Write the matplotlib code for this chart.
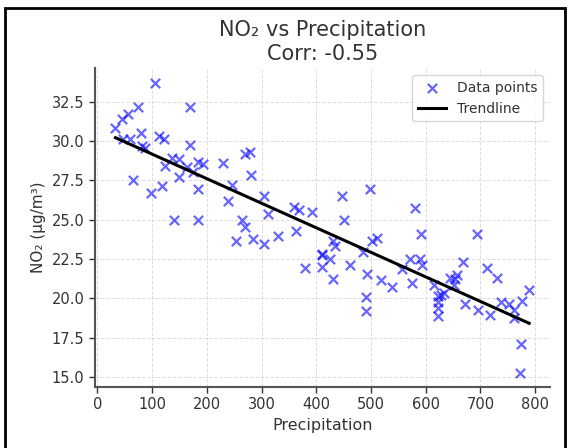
import numpy as np
import matplotlib
matplotlib.use("Agg")
import matplotlib.pyplot as plt
from matplotlib.patches import Rectangle

# values
precip = [33, 45, 56, 75, 105, 170, 47, 60, 79, 82, 87, 65, 98, 113, 121,
          118, 124, 137, 150, 150, 140, 164, 170, 174, 183, 193, 184, 183,
          229, 246, 239, 264, 269, 253, 285, 280, 270, 278, 305, 311, 305,
          330, 359, 362, 368, 393, 410, 447, 498, 450, 431, 434, 410, 425,
          410, 380, 430, 461, 485, 501, 510, 492, 490, 490, 519, 539, 557,
          580, 591, 572, 589, 593, 574, 615, 623, 627, 634, 623, 623, 623,
          645, 653, 658, 651, 668, 694, 671, 695, 712, 730, 718, 738, 753,
          762, 762, 775, 789, 774, 773]
no2 = [30.82, 31.41, 31.73, 32.16, 33.71, 32.16, 30.14, 30.14, 30.52, 29.67,
       29.54, 27.54, 26.70, 30.31, 30.14, 27.11, 28.43, 28.92, 28.86, 27.68,
       25.00, 28.33, 29.75, 28.05, 28.65, 28.52, 26.94, 24.95, 28.60, 27.22,
       26.17, 25.00, 24.50, 23.64, 23.75, 27.84, 29.18, 29.32, 26.47, 25.34,
       23.43, 23.96, 25.77, 24.28, 25.62, 25.45, 22.79, 26.47, 26.94, 24.98,
       23.64, 23.32, 22.00, 22.50, 22.72, 21.94, 21.23, 22.08, 22.93, 23.64,
       23.85, 21.51, 20.08, 19.16, 21.15, 20.72, 21.83, 25.71, 24.07, 22.50,
       22.47, 22.08, 20.98, 20.87, 20.12, 20.23, 20.30, 19.74, 19.38, 18.85,
       21.30, 21.19, 21.45, 20.81, 22.30, 24.07, 19.60, 19.23, 21.94, 21.30,
       18.95, 19.74, 19.60, 19.23, 18.74, 19.80, 20.50, 17.10, 15.27]
title = "NO\u2082 vs Precipitation\nCorr: -0.55"

x = np.array(precip)
y = np.array(no2)
slope, intercept = np.polyfit(x, y, 1)
xs = np.array([x.min(), x.max()])

fig = plt.figure(figsize=(5.71, 4.48), dpi=100)
ax = fig.add_axes([0.166, 0.136, 0.797, 0.712])

ax.scatter(x, y, marker="x", color="blue", alpha=0.6, s=45, linewidths=1.6,
           label="Data points")
ax.plot(xs, slope * xs + intercept, color="black", lw=2.2, label="Trendline")

ax.set_title(title, fontsize=15, color="#333333", pad=6, linespacing=1.25)
ax.set_xlabel("Precipitation", fontsize=11.5, color="#333333")
ax.set_ylabel("NO\u2082 (\u03bcg/m\u00b3)", fontsize=11, color="#333333")
ax.set_xticks(range(0, 900, 100))
ax.set_yticks([15.0, 17.5, 20.0, 22.5, 25.0, 27.5, 30.0, 32.5])
ax.tick_params(labelsize=10.5, colors="#333333", length=4, width=1)

ax.grid(True, linestyle="--", color="#dddddd", linewidth=0.7)
ax.set_axisbelow(True)
for side in ["top", "right"]:
    ax.spines[side].set_visible(False)
for side in ["left", "bottom"]:
    ax.spines[side].set_color("#555555")
    ax.spines[side].set_linewidth(1.5)

ax.legend(loc="upper right", fontsize=10, frameon=True, edgecolor="#cccccc",
          labelcolor="#333333")

# outer frame seen round the figure
fig.patches.append(Rectangle((5 / 571, -0.1), 560 / 571, 1.1 - 8 / 448,
                             transform=fig.transFigure, fill=False,
                             edgecolor="black", linewidth=2))

fig.savefig("out.png", dpi=100)
